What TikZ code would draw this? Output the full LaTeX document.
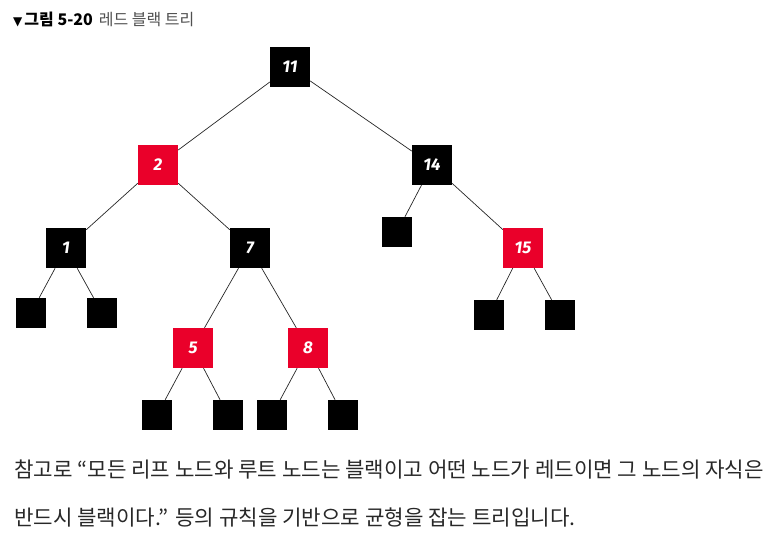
\documentclass[tikz,border=0pt]{standalone}
\usepackage{fontspec}
\setmainfont{Noto Sans CJK KR}
\newfontfamily\krfont{Noto Sans CJK KR}
\newfontfamily\numfont{Fira Sans}
\newfontfamily\symfont{DejaVu Sans}
\definecolor{rbred}{RGB}{234,0,42}
\definecolor{capgray}{RGB}{80,80,80}
\definecolor{bodygray}{RGB}{40,40,40}
\begin{document}
\begin{tikzpicture}[x=1pt,y=-1pt,
  rbnode/.style={minimum size=40pt,inner sep=0pt,text=white,
    font=\numfont\bfseries\itshape\fontsize{17}{17}\selectfont},
  blk/.style={rbnode,fill=black},
  rd/.style={rbnode,fill=rbred},
  leaf/.style={fill=black,minimum size=30pt,inner sep=0pt},
  edge/.style={draw=black!85,line width=0.7pt}]
\useasboundingbox (0,0) rectangle (778,540);
% title
\node[anchor=west,inner sep=0pt] (ttl) at (13,19)
  {{\symfont\fontsize{12}{12}\selectfont ▼}\hspace{2pt}{\krfont\bfseries\fontsize{16}{16}\selectfont 그림 5-20}\hspace{6pt}{\krfont\color{capgray}\fontsize{16}{16}\selectfont 레드 블랙 트리}};
% tree
\node[blk] (n11) at (290,67) {11};
\node[rd]  (n2)  at (158,165) {2};
\node[blk] (n14) at (432,165) {14};
\node[blk] (n1)  at (66,248) {1};
\node[blk] (n7)  at (250,248) {7};
\node[leaf] (l14) at (397,232) {};
\node[rd]  (n15) at (523,248) {15};
\node[leaf] (l1a) at (31,313) {};
\node[leaf] (l1b) at (102,313) {};
\node[leaf] (l15a) at (489,315) {};
\node[leaf] (l15b) at (560,315) {};
\node[rd]  (n5)  at (193,348) {5};
\node[rd]  (n8)  at (308,348) {8};
\node[leaf] (l5a) at (157,415) {};
\node[leaf] (l5b) at (228,415) {};
\node[leaf] (l8a) at (272,415) {};
\node[leaf] (l8b) at (343,415) {};
\draw[edge] (n11) -- (n2);
\draw[edge] (n11) -- (n14);
\draw[edge] (n2) -- (n1);
\draw[edge] (n2) -- (n7);
\draw[edge] (n14) -- (l14);
\draw[edge] (n14) -- (n15);
\draw[edge] (n1) -- (l1a);
\draw[edge] (n1) -- (l1b);
\draw[edge] (n15) -- (l15a);
\draw[edge] (n15) -- (l15b);
\draw[edge] (n7) -- (n5);
\draw[edge] (n7) -- (n8);
\draw[edge] (n5) -- (l5a);
\draw[edge] (n5) -- (l5b);
\draw[edge] (n8) -- (l8a);
\draw[edge] (n8) -- (l8b);
% text below
\node[anchor=west,inner sep=0pt,text=bodygray,font=\krfont\fontsize{21.2}{21.2}\selectfont] (txa) at (14,470)
  {참고로 “모든 리프 노드와 루트 노드는 블랙이고 어떤 노드가 레드이면 그 노드의 자식은};
\node[anchor=west,inner sep=0pt,text=bodygray,font=\krfont\fontsize{21.2}{21.2}\selectfont] (txb) at (14,517)
  {반드시 블랙이다.” 등의 규칙을 기반으로 균형을 잡는 트리입니다.};
\end{tikzpicture}
\end{document}
